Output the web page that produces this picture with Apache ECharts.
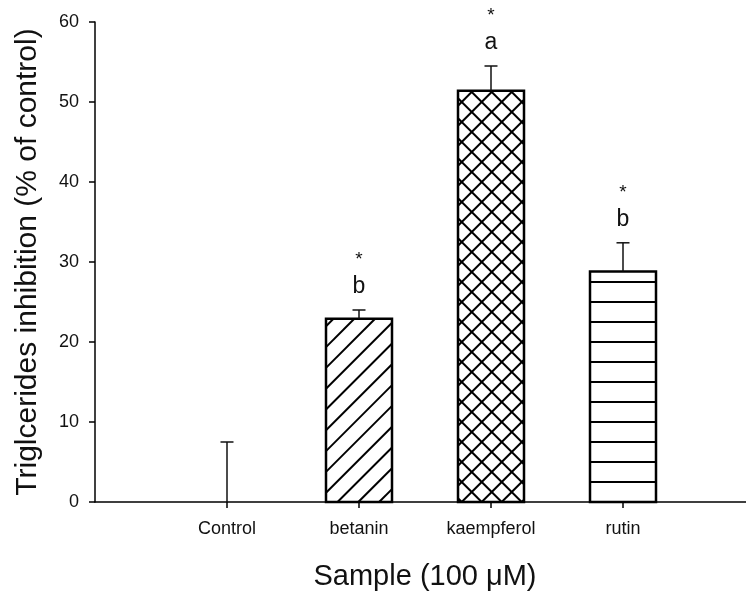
<!DOCTYPE html>
<html>
<head>
<meta charset="utf-8">
<script src="https://cdn.jsdelivr.net/npm/echarts@6/dist/echarts.min.js"></script>
<style>
  html, body { margin: 0; padding: 0; background: #fff; }
  #chart { width: 746px; height: 596px; }
</style>
</head>
<body>
<div id="chart"></div>
<script>
// Triglyceride inhibition by sample (mean ± SEM)
const samples = ['Control', 'betanin', 'kaempferol', 'rutin'];
const means = [0, 22.9, 51.4, 28.8];
const sems = [7.5, 1.1, 3.1, 3.6];
const groupLetters = ['', 'b', 'a', 'b'];
const significance = ['', '*', '*', '*'];
const yTicks = { min: 0, max: 60, step: 10 };

// fill style for each bar
const fills = [
  null,
  { kind: 'diag', gap: 20.8, phase: 11.5 },
  { kind: 'cross', gap: 20, phase: 3.7 },
  { kind: 'horiz', gap: 20 }
];

const FONT = '"Liberation Sans", Arial, sans-serif';
const INK = '#000';

const barData = samples.map((s, i) => [i + 1, means[i]]);
const errData = samples.map((s, i) => [i + 1, means[i], sems[i]]);

function slashSegments(x0, y0, x1, y1, gap, phase) {
  // lines of x + y = c (rising to the right)
  const segs = [];
  const cStart = x0 + phase + y1;
  const kMin = Math.floor((x0 + y0 - cStart) / gap) - 1;
  const kMax = Math.ceil((x1 + y1 - cStart) / gap) + 1;
  for (let k = kMin; k <= kMax; k++) {
    const c = cStart + k * gap;
    const xs = Math.max(x0, c - y1), xe = Math.min(x1, c - y0);
    if (xe - xs > 0.5) segs.push([xs, c - xs, xe, c - xe]);
  }
  return segs;
}

function backslashSegments(x0, y0, x1, y1, gap, phase) {
  // lines of x - y = c (falling to the right)
  const segs = [];
  const cStart = x0 + phase - y1;
  const kMin = Math.floor((x0 - y1 - cStart) / gap) - 1;
  const kMax = Math.ceil((x1 - y0 - cStart) / gap) + 1;
  for (let k = kMin; k <= kMax; k++) {
    const c = cStart + k * gap;
    const xs = Math.max(x0, c + y0), xe = Math.min(x1, c + y1);
    if (xe - xs > 0.5) segs.push([xs, xs - c, xe, xe - c]);
  }
  return segs;
}

function renderBar(params, api) {
  const idx = params.dataIndex;
  const x = api.value(0), v = api.value(1);
  const tl = api.coord([x - 0.25, v]);
  const br = api.coord([x + 0.25, 0]);
  const x0 = tl[0], y0 = tl[1], x1 = br[0], y1 = br[1];
  if (y1 - y0 < 0.5) return { type: 'group', children: [] };
  const children = [];
  const fill = fills[idx];
  let segs = [];
  if (fill) {
    if (fill.kind === 'diag') {
      segs = slashSegments(x0, y0, x1, y1, fill.gap, fill.phase);
    } else if (fill.kind === 'cross') {
      segs = slashSegments(x0, y0, x1, y1, fill.gap, fill.phase)
        .concat(backslashSegments(x0, y0, x1, y1, fill.gap, fill.phase));
    } else if (fill.kind === 'horiz') {
      for (let yy = y1 - fill.gap; yy > y0 + 3; yy -= fill.gap) {
        segs.push([x0, yy, x1, yy]);
      }
    }
  }
  segs.forEach(s => children.push({
    type: 'line',
    shape: { x1: s[0], y1: s[1], x2: s[2], y2: s[3] },
    style: { stroke: INK, lineWidth: 2 }
  }));
  children.push({
    type: 'rect',
    shape: { x: x0, y: y0, width: x1 - x0, height: y1 - y0 },
    style: { fill: 'none', stroke: INK, lineWidth: 2.5 }
  });
  return { type: 'group', children };
}

function renderError(params, api) {
  const idx = params.dataIndex;
  const x = api.value(0), v = api.value(1), e = api.value(2);
  const base = api.coord([x, v]);
  const top = api.coord([x, v + e]);
  const half = 6.5;
  const children = [
    { type: 'line', shape: { x1: base[0], y1: base[1], x2: top[0], y2: top[1] },
      style: { stroke: '#111', lineWidth: 1.5 } },
    { type: 'line', shape: { x1: top[0] - half, y1: top[1], x2: top[0] + half, y2: top[1] },
      style: { stroke: '#111', lineWidth: 1.5 } }
  ];
  if (groupLetters[idx]) {
    children.push({
      type: 'text',
      style: { text: groupLetters[idx], x: top[0], y: top[1] - 23, align: 'center',
               verticalAlign: 'middle', font: '23px ' + FONT, fill: '#111' }
    });
  }
  if (significance[idx]) {
    children.push({
      type: 'text',
      style: { text: significance[idx], x: top[0], y: top[1] - 50, align: 'center',
               verticalAlign: 'middle', font: '19px ' + FONT, fill: '#111' }
    });
  }
  return { type: 'group', children };
}

const chart = echarts.init(document.getElementById('chart'), null, { renderer: 'canvas' });
chart.setOption({
  animation: false,
  backgroundColor: '#fff',
  grid: { left: 95, width: 660, top: 22, bottom: 94, outerBoundsMode: 'none', containLabel: false },
  xAxis: {
    type: 'value', min: 0, max: 5, interval: 1,
    splitLine: { show: false },
    axisLine: { show: true, onZero: false, lineStyle: { color: INK, width: 1.5 } },
    axisTick: { show: true, customValues: [1, 2, 3, 4], length: 6, lineStyle: { color: INK, width: 1.5 } },
    axisLabel: { customValues: [1, 2, 3, 4], formatter: v => samples[v - 1] || '',
                 margin: 18, fontSize: 18, color: '#111', fontFamily: FONT },
    name: 'Sample (100 \u03bcM)', nameLocation: 'middle', nameGap: 60,
    nameTextStyle: { fontSize: 29, color: '#111', fontFamily: FONT }
  },
  yAxis: {
    type: 'value', min: yTicks.min, max: yTicks.max, interval: yTicks.step,
    splitLine: { show: false },
    axisLine: { show: true, onZero: false, lineStyle: { color: INK, width: 1.5 } },
    axisTick: { show: true, length: 6, lineStyle: { color: INK, width: 1.5 } },
    axisLabel: { margin: 16, fontSize: 18, color: '#111', fontFamily: FONT },
    name: 'Triglcerides inhibition (% of control)', nameLocation: 'middle', nameGap: 52,
    nameTextStyle: { fontSize: 30, color: '#111', fontFamily: FONT }
  },
  series: [
    { type: 'custom', renderItem: renderBar, data: barData, encode: { x: 0, y: 1 }, clip: false, z: 2 },
    { type: 'custom', renderItem: renderError, data: errData, encode: { x: 0, y: 1 }, clip: false, z: 3 }
  ]
});
</script>
</body>
</html>
